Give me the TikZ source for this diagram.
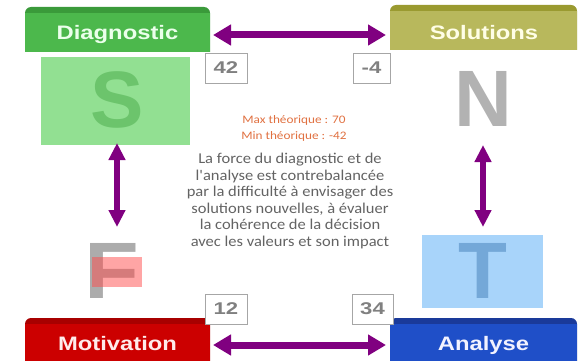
\documentclass[tikz,border=0pt]{standalone}
\usepackage{fontspec}
\setmainfont{Liberation Sans}
\newfontfamily\bodyfont{Carlito}
\usetikzlibrary{arrows.meta}
\definecolor{dgreen}{HTML}{4CB84C}
\definecolor{dgreenT}{HTML}{3A9A3A}
\definecolor{solcol}{HTML}{B8B85C}
\definecolor{solcolT}{HTML}{9A9A30}
\definecolor{motcol}{HTML}{CC0000}
\definecolor{motcolT}{HTML}{A80000}
\definecolor{anacol}{HTML}{1F4FC8}
\definecolor{anacolT}{HTML}{1A3A9A}
\definecolor{purp}{HTML}{800080}
\definecolor{sbox}{HTML}{92E092}
\definecolor{sletter}{HTML}{6CC46C}
\definecolor{tbox}{HTML}{A8D4FA}
\definecolor{tletter}{HTML}{74A8D8}
\definecolor{orangetxt}{HTML}{E07040}
\definecolor{bodytxt}{HTML}{636363}
\begin{document}
\begin{tikzpicture}[x=1pt,y=-1pt,
  header/.style={rounded corners=6pt},
  titletxt/.style={font=\fontsize{19.5}{22}\selectfont\bfseries,xscale=1.22},
  numbox/.style={draw=gray!70,fill=white,line width=0.8pt,minimum width=42pt,minimum height=30pt,inner sep=0pt},
  numtxt/.style={font=\fontsize{17}{20}\selectfont\bfseries,text=gray,xscale=1.3},
  bigletter/.style={font=\fontsize{80}{90}\selectfont\bfseries,inner sep=0pt},
  dbl/.style={purp,line width=7pt,{Triangle[width=20pt,length=18pt]}-{Triangle[width=20pt,length=18pt]}},
  vdbl/.style={purp,line width=6pt,{Triangle[width=16pt,length=17pt]}-{Triangle[width=16pt,length=17pt]}}
]
\useasboundingbox (0,0) rectangle (583,361);
% headers
\begin{scope}
\clip (25,7) rectangle (210,52);
\fill[dgreenT,header] (25,7) rectangle (210,70);
\fill[dgreen] (25,13) rectangle (210,52);
\end{scope}
\node[titletxt,text=green!8] (diag) at (117.5,34.5) {Diagnostic};
\begin{scope}
\clip (390,5) rectangle (577,50);
\fill[solcolT,header] (390,5) rectangle (577,70);
\fill[solcol] (390,11) rectangle (577,50);
\end{scope}
\node[titletxt,text=yellow!10] (sol) at (484,33) {Solutions};
\begin{scope}
\clip (25,318) rectangle (210,361);
\fill[motcolT,header] (25,318) rectangle (210,380);
\fill[motcol] (25,324) rectangle (210,361);
\end{scope}
\node[titletxt,text=red!8] (mot) at (117.5,344) {Motivation};
\begin{scope}
\clip (390,318) rectangle (577,361);
\fill[anacolT,header] (390,318) rectangle (577,380);
\fill[anacol] (390,324) rectangle (577,361);
\end{scope}
\node[titletxt,text=blue!5] (ana) at (483.5,345) {Analyse};
% letter boxes
\fill[sbox] (41,57) rectangle (190,145);
\node[bigletter,text=sletter] (S) at (117,100) {S};
\node[bigletter,text=gray!60] (N) at (483,99) {N};
\node[bigletter,text=gray!65,xscale=1.12] (F) at (112,271) {F};
\fill[red!70,opacity=0.5] (92,257) rectangle (142,287);
\fill[tbox] (422,235) rectangle (543,308);
\node[bigletter,text=tletter] (T) at (483,271) {T};
% number boxes
\node[numbox] (n42) at (226,68) {};
\node[numtxt] at (n42) {42};
\node[numbox,minimum width=37pt] (n4) at (371.5,68) {};
\node[numtxt] at (n4) {-4};
\node[numbox] (n12) at (226,309) {};
\node[numtxt] at (n12) {12};
\node[numbox,minimum width=41pt] (n34) at (372.5,309) {};
\node[numtxt] at (n34) {34};
% arrows
\coordinate (a1) at (213,35); \coordinate (a2) at (386,35);
\draw[dbl] (a1) -- (a2);
\coordinate (b1) at (213,345); \coordinate (b2) at (386,345);
\draw[dbl] (b1) -- (b2);
\coordinate (c1) at (117,143); \coordinate (c2) at (117,227);
\draw[vdbl] (c1) -- (c2);
\coordinate (d1) at (483,145); \coordinate (d2) at (483,227);
\draw[vdbl] (d1) -- (d2);
% center text
\node[font=\bodyfont\fontsize{11.5}{16.5}\selectfont,text=orangetxt,align=center,xscale=1.15] (mm) at (294,128.5)
  {Max théorique : 70\\Min théorique : -42};
\node[font=\bodyfont\fontsize{15}{16.5}\selectfont,text=bodytxt,align=center,xscale=1.1] (body) at (290,201)
  {La force du diagnostic et de\\l'analyse est contrebalancée\\par la difficulté à envisager des\\solutions nouvelles, à évaluer\\la cohérence de la décision\\avec les valeurs et son impact};
\end{tikzpicture}
\end{document}
